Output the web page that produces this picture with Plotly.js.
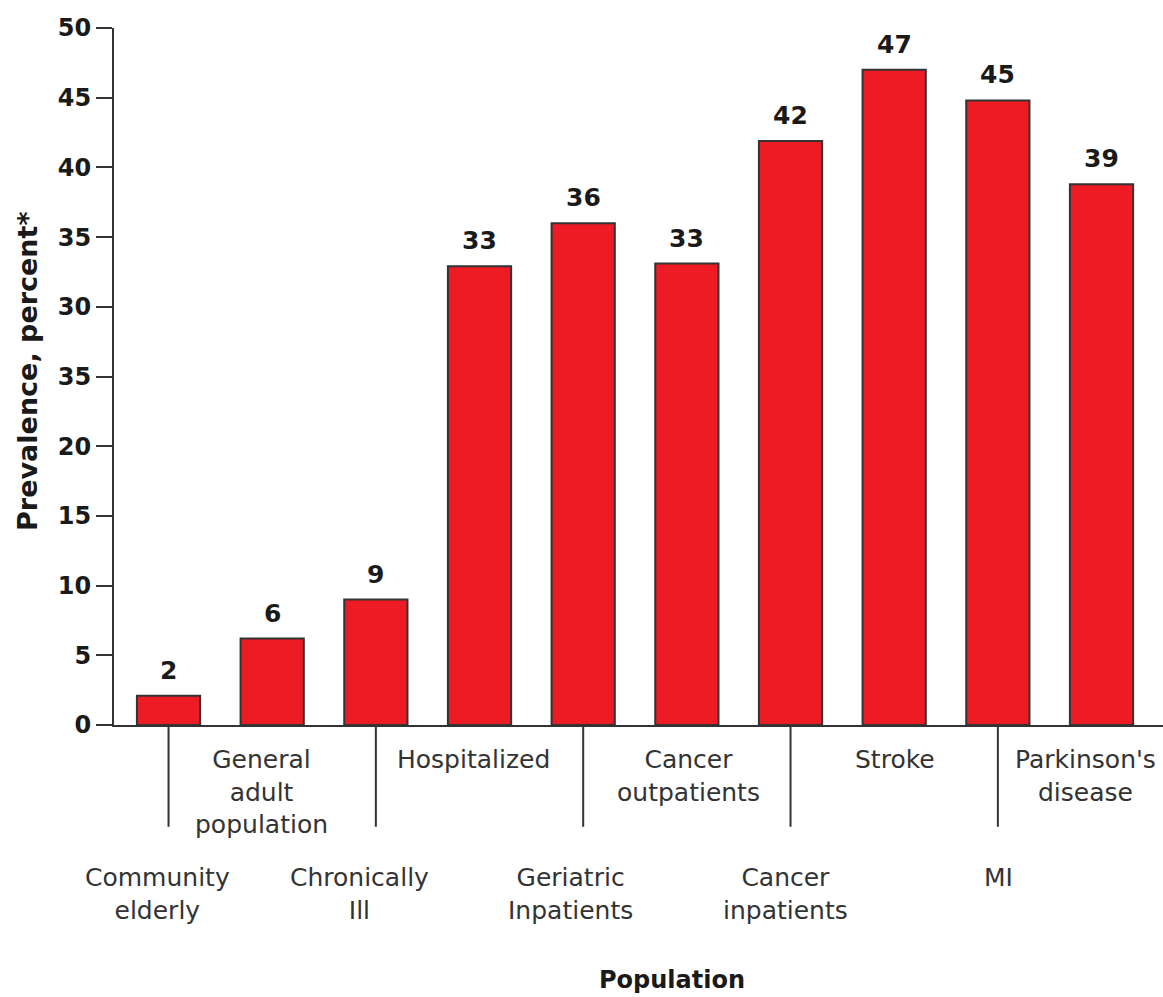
<!DOCTYPE html>
<html>
<head>
<meta charset="utf-8">
<script src="https://cdn.plot.ly/plotly-3.0.1.min.js"></script>
<style>html,body{margin:0;padding:0;background:#fff;}#chart{width:1163px;height:997px;}</style>
</head>
<body>
<div id="chart"></div>
<script>
var categories = ["Community elderly", "General adult population", "Chronically Ill", "Hospitalized",
  "Geriatric Inpatients", "Cancer outpatients", "Cancer inpatients", "Stroke", "MI", "Parkinson's disease"];
var categoryLabels = ["Community<br>elderly", "General<br>adult<br>population", "Chronically<br>Ill", "Hospitalized",
  "Geriatric<br>Inpatients", "Cancer<br>outpatients", "Cancer<br>inpatients", "Stroke", "MI", "Parkinson's<br>disease"];
var prevalence = [2.1, 6.2, 9.0, 32.9, 36.0, 33.1, 41.9, 47.0, 44.8, 38.8];
var valueLabels = ["2", "6", "9", "33", "36", "33", "42", "47", "45", "39"];
var yTickVals = [0, 5, 10, 15, 20, 25, 30, 35, 40, 45, 50];
var yTickText = ["0", "5", "10", "15", "20", "35", "30", "35", "40", "45", "50"];

// label placement tweaks (pixels), layout only
var labelXShift = [-11, -11, -16, -6, -13, 2, -5, 1, 1, -16];

var fam = "DejaVu Sans";
var idx = categories.map(function (c, i) { return i; });

var trace = {
  type: "bar",
  x: idx,
  y: prevalence,
  width: 0.61,
  marker: { color: "#ED1C24", line: { color: "#333333", width: 2 } },
  hoverinfo: "skip"
};

var annotations = [];
var shapes = [];
idx.forEach(function (i) {
  annotations.push({
    x: i, y: prevalence[i], xref: "x", yref: "y",
    text: "<b>" + valueLabels[i] + "</b>", showarrow: false,
    yanchor: "bottom", yshift: 9,
    font: { family: fam, size: 25, color: "#1a1a1a" }
  });
  var lower = (i % 2 === 0);
  annotations.push({
    x: i, y: 0, xref: "x", yref: "paper",
    text: categoryLabels[i], showarrow: false,
    yanchor: "top", yshift: lower ? -136 : -18, xshift: labelXShift[i],
    font: { family: fam, size: 25, color: "#333333" }
  });
  if (lower) {
    shapes.push({
      type: "line", xref: "x", yref: "paper",
      x0: i, x1: i, y0: 0, y1: -0.146,
      line: { color: "#333333", width: 2 }
    });
  }
});

annotations.push({
  x: 0, y: 0.508, xref: "paper", yref: "paper", xshift: -86,
  text: "<b>Prevalence, percent*</b>", textangle: -90, showarrow: false,
  xanchor: "center", yanchor: "middle",
  font: { family: fam, size: 27, color: "#1a1a1a" }
});
annotations.push({
  x: 0.532, y: -0.366, xref: "paper", yref: "paper",
  text: "<b>Population</b>", showarrow: false,
  xanchor: "center", yanchor: "middle",
  font: { family: fam, size: 24, color: "#1a1a1a" }
});

var layout = {
  width: 1163, height: 997,
  margin: { l: 114, r: 0, t: 28, b: 272 },
  paper_bgcolor: "#ffffff", plot_bgcolor: "#ffffff",
  showlegend: false,
  xaxis: {
    range: [-0.526, 9.593], showticklabels: false, ticks: "",
    showgrid: false, zeroline: false, showline: true,
    linecolor: "#333333", linewidth: 2, fixedrange: true
  },
  yaxis: {
    range: [0, 50], tickvals: yTickVals, ticktext: yTickText,
    ticks: "outside", ticklen: 16, tickwidth: 2, tickcolor: "#333333",
    showgrid: false, zeroline: false, showline: true,
    linecolor: "#333333", linewidth: 2,
    tickfont: { family: fam, size: 24, color: "#1a1a1a", weight: "bold" },
    fixedrange: true
  },
  annotations: annotations,
  shapes: shapes
};

Plotly.newPlot("chart", [trace], layout, { displayModeBar: false, staticPlot: true });
</script>
</body>
</html>
